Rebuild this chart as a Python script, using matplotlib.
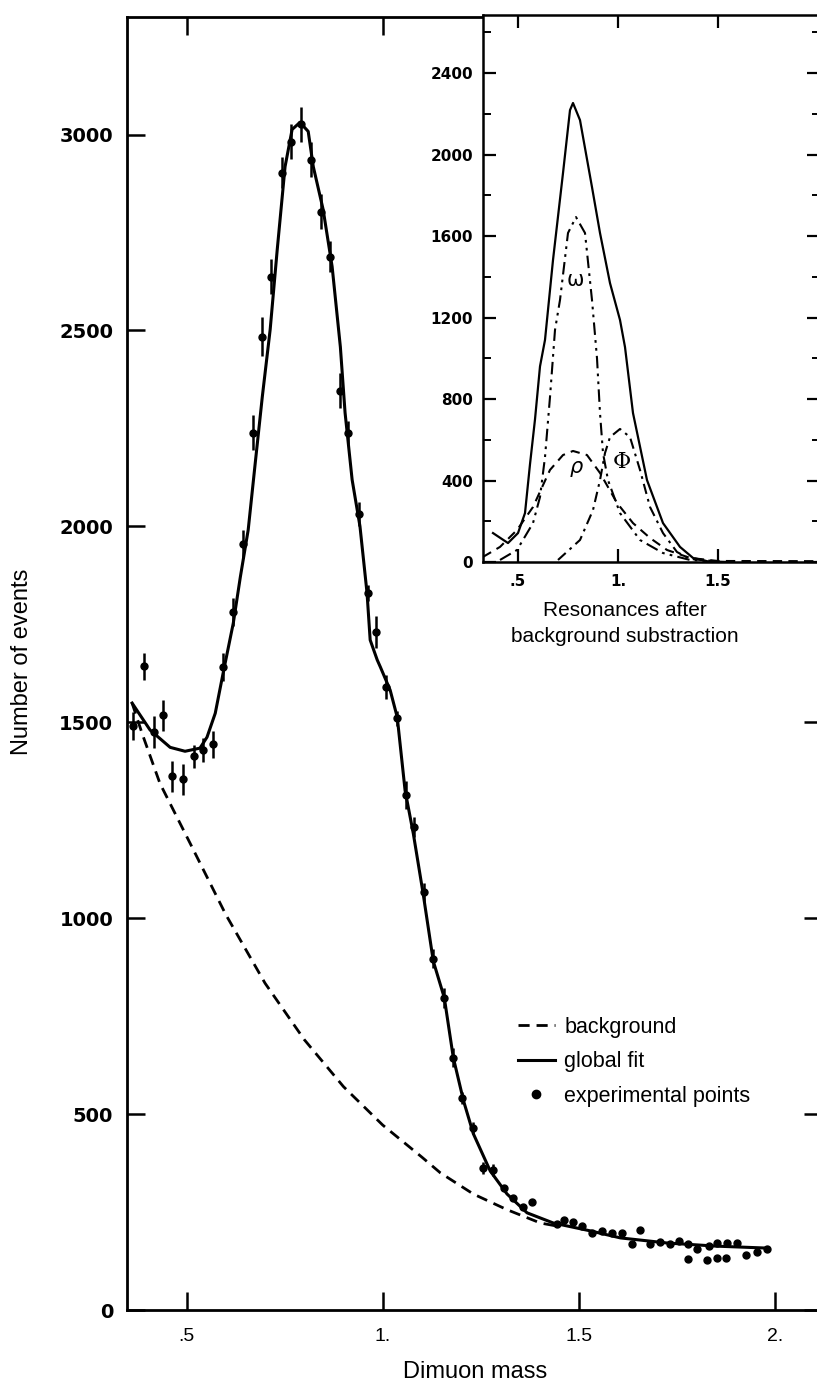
import matplotlib
matplotlib.use('Agg')
import matplotlib.pyplot as plt
import numpy as np

plt.rcParams['font.family'] = ['Liberation Sans', 'DejaVu Sans']

# experimental points (dimuon mass, number of events, error)
mass = [0.364, 0.392, 0.417, 0.440, 0.463, 0.491, 0.519, 0.542, 0.568, 0.593,
        0.619, 0.644, 0.670, 0.693, 0.716, 0.744, 0.766, 0.792, 0.818, 0.843,
        0.866, 0.892, 0.912, 0.940, 0.963, 0.983, 1.009, 1.037, 1.060, 1.080,
        1.106, 1.129, 1.157, 1.180, 1.203, 1.231, 1.256, 1.282, 1.308, 1.333,
        1.358, 1.381, 1.445, 1.461, 1.486, 1.509, 1.534, 1.560, 1.585, 1.611,
        1.636, 1.655, 1.682, 1.708, 1.733, 1.756, 1.779, 1.779, 1.802, 1.828,
        1.833, 1.853, 1.853, 1.876, 1.878, 1.904, 1.927, 1.955, 1.980]
events = [1490, 1643, 1475, 1518, 1362, 1354, 1413, 1429, 1444, 1641,
          1781, 1955, 2239, 2484, 2637, 2903, 2982, 3026, 2936, 2803,
          2688, 2346, 2239, 2032, 1830, 1730, 1590, 1510, 1314, 1232,
          1066, 897, 797, 644, 542, 465, 363, 358, 312, 286,
          263, 276, 220, 230, 225, 215, 197, 202, 197, 197,
          169, 204, 169, 174, 169, 176, 169, 130, 156, 128,
          164, 133, 171, 133, 171, 171, 141, 148, 156]
err = [35, 35, 40, 40, 40, 40, 30, 30, 35, 35,
       35, 35, 45, 50, 45, 40, 45, 45, 45, 45,
       40, 45, 30, 30, 20, 40, 30, 20, 35, 25,
       25, 25, 25, 25, 15, 15, 15, 15, 0, 0,
       0, 0, 0, 0, 0, 0, 0, 0, 0, 0,
       0, 0, 0, 0, 0, 0, 0, 0, 0, 0,
       0, 0, 0, 0, 0, 0, 0, 0, 0]

# global fit
fit_mass = [0.361, 0.407, 0.458, 0.496, 0.534, 0.552, 0.573, 0.593, 0.619, 0.637,
            0.657, 0.675, 0.693, 0.713, 0.731, 0.751, 0.769, 0.789, 0.810, 0.823,
            0.848, 0.871, 0.892, 0.904, 0.922, 0.942, 0.960, 0.968, 0.986, 0.994,
            1.019, 1.037, 1.057, 1.078, 1.103, 1.129, 1.157, 1.180, 1.206, 1.231,
            1.274, 1.317, 1.368, 1.435, 1.529, 1.606, 1.725, 1.850, 1.980]
fit_events = [1549, 1480, 1436, 1426, 1434, 1462, 1523, 1625, 1753, 1871,
              1991, 2162, 2331, 2502, 2706, 2918, 3013, 3031, 3008, 2918,
              2809, 2663, 2458, 2290, 2119, 2000, 1830, 1710, 1659, 1641,
              1582, 1513, 1326, 1216, 1063, 890, 797, 644, 534, 450,
              355, 296, 248, 222, 202, 184, 171, 163, 158]

# background
bkg_mass = [0.361, 0.387, 0.432, 0.509, 0.600, 0.700, 0.800, 0.900, 1.000,
            1.100, 1.147, 1.231, 1.317, 1.402, 1.440]
bkg_events = [1549, 1470, 1344, 1191, 1009, 834, 690, 570, 472,
              390, 350, 296, 256, 222, 215]

# inset: resonances after background subtraction
tot_m = [0.375, 0.45, 0.50, 0.535, 0.56, 0.585, 0.61, 0.635, 0.675, 0.725,
         0.76, 0.775, 0.81, 0.87, 0.91, 0.96, 1.01, 1.035, 1.075, 1.145,
         1.225, 1.31, 1.375, 1.45, 1.55]
tot_v = [142, 93, 142, 240, 480, 700, 960, 1090, 1482, 1909,
         2218, 2253, 2169, 1840, 1615, 1369, 1188, 1055, 731, 402,
         191, 74, 20, 3, 0]
omega_m = [0.41, 0.495, 0.575, 0.61, 0.635, 0.66, 0.685, 0.71, 0.75, 0.79,
           0.835, 0.87, 0.895, 0.91, 0.925, 0.95, 1.01, 1.11, 1.225, 1.36, 1.5]
omega_v = [10, 59, 191, 319, 515, 810, 1139, 1286, 1615, 1693,
           1615, 1286, 1000, 731, 535, 402, 240, 108, 44, 10, 2]
phi_m = [0.70, 0.81, 0.875, 0.91, 0.935, 0.96, 1.01, 1.06, 1.11, 1.16,
         1.225, 1.295, 1.36, 1.5]
phi_v = [10, 108, 255, 402, 535, 613, 653, 613, 452, 270,
         142, 49, 15, 3]
rho_m = [0.325, 0.41, 0.495, 0.575, 0.66, 0.725, 0.775, 0.845, 0.91, 0.995,
         1.075, 1.16, 1.245, 1.36, 1.5, 2.0]
rho_v = [25, 74, 157, 270, 452, 525, 545, 525, 437, 290,
         191, 118, 59, 20, 5, 4]

W, H = 817, 1391
fig = plt.figure(figsize=(W / 100, H / 100), dpi=100)

# main axes (right edge runs past the figure, as in the cropped scan)
ax = fig.add_axes([127 / W, 1 - 1310 / H, 695 / W, 1293 / H])
ax.plot(bkg_mass, bkg_events, color='black', lw=2, ls=(0, (4, 2.5)), label='background')
ax.plot(fit_mass, fit_events, color='black', lw=2.2, label='global fit')
ax.errorbar(mass, events, yerr=err, fmt='o', color='black', ms=5,
            elinewidth=1.8, capsize=0, zorder=3)
pts, = ax.plot([], [], 'o', color='black', ms=6, label='experimental points')

ax.set_xlim(0.348, 2.12)
ax.set_ylim(0, 3300)
ax.set_xticks([0.5, 1.0, 1.5, 2.0], ['.5', '1.', '1.5', '2.'], fontsize=14)
ax.set_yticks(range(0, 3001, 500), [str(v) for v in range(0, 3001, 500)],
              fontsize=14, fontweight='bold', family='DejaVu Sans')
ax.tick_params(direction='in', length=13, width=1.8, top=True, right=True)
ax.tick_params(axis='y', pad=10)
ax.tick_params(axis='x', pad=13)
for s in ax.spines.values():
    s.set_linewidth(2)

h = ax.get_legend_handles_labels()[0]
ax.legend(handles=h[:2] + [pts], loc='upper left', bbox_to_anchor=(518 / W, 1 - 1017 / H),
          bbox_transform=fig.transFigure, frameon=False, fontsize=15.5,
          handlelength=1.7, handletextpad=0.45, labelspacing=0.62,
          borderpad=0, borderaxespad=0, numpoints=1)

fig.text(22 / W, 1 - 662 / H, 'Number of events', rotation=90,
         ha='center', va='center', fontsize=17)
fig.text(475 / W, 1 - 1372 / H, 'Dimuon mass', ha='center', va='center', fontsize=17)

# inset
ins = fig.add_axes([483 / W, 1 - 562 / H, 337 / W, 547 / H])
ins.set_facecolor('white')
ins.plot(tot_m, tot_v, color='black', lw=1.6)
ins.plot(omega_m, omega_v, color='black', lw=1.5, ls=(0, (6, 2.5, 1.3, 2.5, 1.3, 2.5)))
ins.plot(phi_m, phi_v, color='black', lw=1.5, ls=(0, (5, 2.5, 1.3, 2.5)))
ins.plot(rho_m, rho_v, color='black', lw=1.5, ls=(0, (4.5, 3)))
ins.text(0.785, 1384, 'ω', ha='center', va='center', fontsize=15, family='DejaVu Sans')
ins.text(0.79, 466, 'ρ', ha='center', va='center', fontsize=15, style='italic',
         family='DejaVu Sans')
ins.text(1.02, 491, 'Φ', ha='center', va='center', fontsize=16, family='DejaVu Serif')

ins.set_xlim(0.325, 2.01)
ins.set_ylim(0, 2685)
ins.set_xticks([0.5, 1.0, 1.5], ['.5', '1.', '1.5'], fontsize=11,
               fontweight='bold', family='DejaVu Sans')
ins.set_yticks(range(0, 2401, 400), [str(v) for v in range(0, 2401, 400)],
               fontsize=11, fontweight='bold', family='DejaVu Sans')
ins.set_yticks(range(200, 2601, 400), minor=True)
ins.tick_params(direction='in', length=9.5, width=1.6, top=True, right=True)
ins.tick_params(which='minor', direction='in', length=6, width=1.4, right=True)
ins.tick_params(axis='y', pad=7)
ins.tick_params(axis='x', pad=9)
for s in ins.spines.values():
    s.set_linewidth(1.8)

fig.text(625 / W, 1 - 610 / H, 'Resonances after', ha='center', va='center', fontsize=15)
fig.text(625 / W, 1 - 637 / H, 'background substraction', ha='center', va='center', fontsize=15)

fig.savefig('out.png', dpi=100)
